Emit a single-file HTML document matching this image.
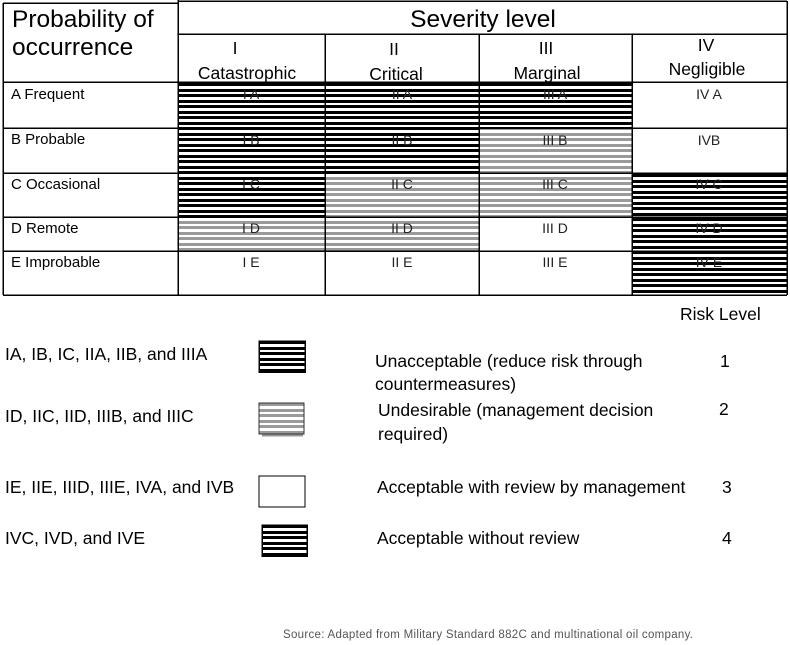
<!DOCTYPE html>
<html>
<head>
<meta charset="utf-8">
<style>
  html, body { margin: 0; padding: 0; background: #fff; }
  body { width: 790px; height: 645px; overflow: hidden; }
  svg { display: block; font-family: "Liberation Sans", Arial, sans-serif; }
</style>
</head>
<body>
<svg width="790" height="645" viewBox="0 0 790 645" xmlns="http://www.w3.org/2000/svg" shape-rendering="crispEdges">
  <defs>
    <pattern id="blk" patternUnits="userSpaceOnUse" x="0" y="83" width="20" height="11">
      <rect x="0" y="0" width="20" height="3" fill="#000"/>
      <rect x="0" y="6" width="20" height="3" fill="#000"/>
    </pattern>
    <pattern id="gry" patternUnits="userSpaceOnUse" x="0" y="83" width="20" height="11">
      <rect x="0" y="0" width="20" height="3" fill="#9a9a9a"/>
      <rect x="0" y="6" width="20" height="3" fill="#9a9a9a"/>
    </pattern>
    <pattern id="blk4" patternUnits="userSpaceOnUse" x="0" y="174" width="20" height="11">
      <rect x="0" y="0" width="20" height="3" fill="#000"/>
      <rect x="0" y="6" width="20" height="3" fill="#000"/>
    </pattern>
    <pattern id="lg1" patternUnits="userSpaceOnUse" x="0" y="341" width="20" height="11">
      <rect x="0" y="0" width="20" height="3" fill="#000"/>
      <rect x="0" y="6" width="20" height="3" fill="#000"/>
    </pattern>
    <pattern id="lg2" patternUnits="userSpaceOnUse" x="0" y="403" width="20" height="11">
      <rect x="0" y="0" width="20" height="3" fill="#9a9a9a"/>
      <rect x="0" y="6" width="20" height="3" fill="#9a9a9a"/>
    </pattern>
    <pattern id="lg4" patternUnits="userSpaceOnUse" x="0" y="525" width="20" height="11">
      <rect x="0" y="0" width="20" height="3" fill="#000"/>
      <rect x="0" y="6" width="20" height="3" fill="#000"/>
    </pattern>
  </defs>

  <!-- striped cells -->
  <!-- Row A -->
  <rect x="178" y="82" width="147" height="46" fill="url(#blk)"/>
  <rect x="325" y="82" width="154" height="46" fill="url(#blk)"/>
  <rect x="479" y="82" width="153" height="46" fill="url(#blk)"/>
  <!-- Row B -->
  <rect x="178" y="128" width="147" height="45" fill="url(#blk)"/>
  <rect x="325" y="128" width="154" height="45" fill="url(#blk)"/>
  <rect x="479" y="128" width="153" height="45" fill="url(#gry)"/>
  <!-- Row C -->
  <rect x="178" y="173" width="147" height="44" fill="url(#blk)"/>
  <rect x="325" y="173" width="154" height="44" fill="url(#gry)"/>
  <rect x="479" y="173" width="153" height="44" fill="url(#gry)"/>
  <rect x="632" y="173" width="155" height="44" fill="url(#blk4)"/>
  <!-- Row D -->
  <rect x="178" y="217" width="147" height="34" fill="url(#gry)"/>
  <rect x="325" y="217" width="154" height="34" fill="url(#gry)"/>
  <rect x="632" y="217" width="155" height="34" fill="url(#blk4)"/>
  <!-- Row E -->
  <rect x="632" y="251" width="155" height="44" fill="url(#blk4)"/>

  <!-- grid lines -->
  <g stroke="#000" stroke-width="1.5" fill="none">
    <line x1="3" y1="3" x2="178" y2="3"/>
    <line x1="178" y1="1" x2="787" y2="1"/>
    <line x1="3" y1="3" x2="3" y2="295"/>
    <line x1="178" y1="0" x2="178" y2="295"/>
    <line x1="787" y1="1" x2="787" y2="295"/>
    <line x1="178" y1="34" x2="787" y2="34"/>
    <line x1="325" y1="34" x2="325" y2="295"/>
    <line x1="479" y1="34" x2="479" y2="295"/>
    <line x1="632" y1="34" x2="632" y2="295"/>
    <line x1="3" y1="82" x2="787" y2="82"/>
    <line x1="3" y1="128" x2="787" y2="128"/>
    <line x1="3" y1="173" x2="787" y2="173"/>
    <line x1="3" y1="217" x2="787" y2="217"/>
    <line x1="3" y1="251" x2="787" y2="251"/>
    <line x1="3" y1="295" x2="787" y2="295"/>
  </g>

  <g shape-rendering="auto">
  <!-- header texts -->
  <text x="12" y="27" font-size="24.5" fill="#000">Probability of</text>
  <text x="12" y="55" font-size="24.5" fill="#000">occurrence</text>
  <text x="483" y="27" font-size="24.5" fill="#000" text-anchor="middle">Severity level</text>

  <g font-size="17.5" fill="#000" text-anchor="middle">
    <text x="235" y="54">I</text>
    <text x="247" y="79">Catastrophic</text>
    <text x="394" y="55">II</text>
    <text x="396" y="80">Critical</text>
    <text x="546" y="54">III</text>
    <text x="547" y="79">Marginal</text>
    <text x="706" y="51">IV</text>
    <text x="707" y="75">Negligible</text>
  </g>

  <!-- row labels -->
  <g font-size="15" fill="#000">
    <text x="11" y="99">A Frequent</text>
    <text x="11" y="144">B Probable</text>
    <text x="11" y="189">C Occasional</text>
    <text x="11" y="233">D Remote</text>
    <text x="11" y="267">E Improbable</text>
  </g>

  <!-- cell labels -->
  <g font-size="14" fill="#222" text-anchor="middle">
    <text x="251" y="99">I A</text>
    <text x="402" y="99">II A</text>
    <text x="555" y="99">III A</text>
    <text x="709" y="99">IV A</text>

    <text x="251" y="145">I B</text>
    <text x="402" y="145">II B</text>
    <text x="555" y="145">III B</text>
    <text x="709" y="145">IVB</text>

    <text x="251" y="189">I C</text>
    <text x="402" y="189">II C</text>
    <text x="555" y="189">III C</text>
    <text x="709" y="189">IV C</text>

    <text x="251" y="233">I D</text>
    <text x="402" y="233">II D</text>
    <text x="555" y="233">III D</text>
    <text x="709" y="233">IV D</text>

    <text x="251" y="267">I E</text>
    <text x="402" y="267">II E</text>
    <text x="555" y="267">III E</text>
    <text x="709" y="267">IV E</text>
  </g>

  <!-- legend -->
  <g font-size="17.5" fill="#000">
    <text x="680" y="320">Risk Level</text>

    <text x="5" y="360">IA, IB, IC, IIA, IIB, and IIIA</text>
    <text x="5" y="422">ID, IIC, IID, IIIB, and IIIC</text>
    <text x="5" y="493">IE, IIE, IIID, IIIE, IVA, and IVB</text>
    <text x="5" y="544">IVC, IVD, and IVE</text>

    <text x="375" y="367">Unacceptable (reduce risk through</text>
    <text x="375" y="390">countermeasures)</text>
    <text x="378" y="416">Undesirable (management decision</text>
    <text x="378" y="440">required)</text>
    <text x="377" y="493">Acceptable with review by management</text>
    <text x="377" y="544">Acceptable without review</text>

    <text x="720" y="367">1</text>
    <text x="719" y="415">2</text>
    <text x="722" y="493">3</text>
    <text x="722" y="544">4</text>
  </g>
  </g>

  <!-- legend swatches -->
  <rect x="259" y="341" width="46" height="31" fill="url(#lg1)" stroke="#000" stroke-width="1.5"/>
  <rect x="259" y="403" width="45" height="31" fill="url(#lg2)" stroke="#333" stroke-width="1"/>
  <line x1="262" y1="435.5" x2="303" y2="435.5" stroke="#999" stroke-width="2"/>
  <rect x="259" y="476" width="46" height="31" fill="#fff" stroke="#000" stroke-width="1.3"/>
  <rect x="262" y="525" width="45" height="31" fill="url(#lg4)" stroke="#000" stroke-width="1.5"/>

  <!-- source -->
  <text x="283" y="638" font-size="11.5" fill="#555" textLength="410" shape-rendering="auto">Source: Adapted from Military Standard 882C and multinational oil company.</text>
</svg>
</body>
</html>
